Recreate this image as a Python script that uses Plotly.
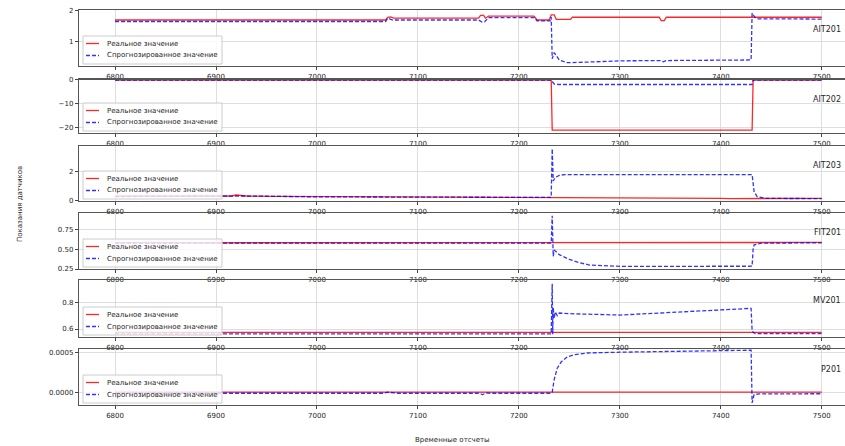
import plotly.graph_objects as go

# ---------------- data ----------------
sensor_names = ["AIT201", "AIT202", "AIT203", "FIT201", "MV201", "P201"]
real_label = "Реальное значение"
pred_label = "Спрогнозированное значение"
x_ticks = [6800, 6900, 7000, 7100, 7200, 7300, 7400, 7500]

# AIT201
ait201_real_t = [6800, 7068, 7070, 7073, 7076, 7160, 7162, 7165, 7167, 7170, 7215, 7218, 7230, 7232, 7235, 7237, 7251, 7253, 7339, 7341, 7344, 7346, 7500]
ait201_real_v = [1.70, 1.70, 1.79, 1.80, 1.76, 1.76, 1.85, 1.85, 1.76, 1.83, 1.83, 1.70, 1.70, 1.87, 1.87, 1.72, 1.72, 1.79, 1.79, 1.68, 1.68, 1.79, 1.79]
ait201_pred_t = [6800, 7068, 7070, 7075, 7160, 7163, 7166, 7170, 7215, 7218, 7231, 7232, 7233, 7235, 7240, 7248, 7260, 7300, 7340, 7343, 7346, 7430, 7431, 7434, 7437, 7500]
ait201_pred_v = [1.65, 1.65, 1.76, 1.70, 1.70, 1.64, 1.64, 1.78, 1.78, 1.67, 1.67, 1.80, 0.42, 0.62, 0.38, 0.29, 0.30, 0.35, 0.36, 0.32, 0.36, 0.38, 1.93, 1.78, 1.74, 1.73]

# AIT202
ait202_real_t = [6800, 7232, 7233, 7431, 7432, 7500]
ait202_real_v = [0.0, 0.0, -21.0, -21.0, 0.0, 0.0]
ait202_pred_t = [6800, 7232, 7233, 7235, 7240, 7431, 7432, 7500]
ait202_pred_v = [0.0, 0.0, -0.6, -1.7, -1.9, -1.9, 0.0, 0.0]

# AIT203
ait203_real_t = [6800, 6900, 6915, 6920, 6930, 6960, 7000, 7050, 7100, 7150, 7200, 7250, 7300, 7320, 7350, 7380, 7400, 7410, 7450, 7500]
ait203_real_v = [0.30, 0.30, 0.30, 0.37, 0.30, 0.28, 0.27, 0.26, 0.25, 0.23, 0.21, 0.19, 0.16, 0.18, 0.15, 0.16, 0.14, 0.12, 0.14, 0.13]
ait203_pred_t = [6800, 6920, 6930, 7000, 7100, 7200, 7232, 7233, 7234, 7236, 7240, 7245, 7300, 7431, 7433, 7436, 7445, 7500]
ait203_pred_v = [0.26, 0.26, 0.30, 0.24, 0.22, 0.20, 0.20, 3.60, 1.35, 1.60, 1.74, 1.80, 1.80, 1.80, 0.60, 0.25, 0.13, 0.12]

# FIT201
fit201_real_t = [6800, 6950, 7050, 7150, 7233, 7300, 7350, 7400, 7450, 7500]
fit201_real_v = [0.580, 0.582, 0.580, 0.583, 0.582, 0.585, 0.582, 0.583, 0.584, 0.584]
fit201_pred_t = [6800, 7232, 7233, 7234, 7235, 7240, 7250, 7260, 7270, 7285, 7300, 7431, 7432, 7433, 7440, 7500]
fit201_pred_v = [0.575, 0.575, 0.92, 0.41, 0.49, 0.43, 0.37, 0.33, 0.30, 0.29, 0.283, 0.285, 0.50, 0.555, 0.575, 0.58]

# MV201
mv201_real_t = [6800, 7500]
mv201_real_v = [0.575, 0.575]
mv201_pred_t = [6800, 7232, 7233, 7233.5, 7234, 7235, 7236, 7238, 7240, 7250, 7300, 7350, 7430, 7431, 7432, 7434, 7500]
mv201_pred_v = [0.563, 0.563, 0.94, 0.56, 0.76, 0.68, 0.73, 0.70, 0.72, 0.715, 0.705, 0.725, 0.755, 0.59, 0.575, 0.565, 0.566]

# P201
p201_real_t = [6800, 7500]
p201_real_v = [0.0, 0.0]
p201_pred_t = [6800, 7066, 7070, 7074, 7080, 7160, 7164, 7168, 7172, 7232, 7233, 7235, 7238, 7242, 7248, 7255, 7268, 7300, 7350, 7430, 7431, 7433, 7438, 7500]
p201_pred_v = [-0.000014, -0.000014, 0.0, -0.000005, -0.000014, -0.000014, -0.000030, -0.000010, -0.000014, -0.000014, 0.0, 0.00016, 0.00030, 0.00038, 0.00044, 0.00047, 0.00049, 0.00050, 0.00051, 0.000525, -0.000135, -0.00003, -0.000022, -0.00002]

real_t = [ait201_real_t, ait202_real_t, ait203_real_t, fit201_real_t, mv201_real_t, p201_real_t]
real_v = [ait201_real_v, ait202_real_v, ait203_real_v, fit201_real_v, mv201_real_v, p201_real_v]
pred_t = [ait201_pred_t, ait202_pred_t, ait203_pred_t, fit201_pred_t, mv201_pred_t, p201_pred_t]
pred_v = [ait201_pred_v, ait202_pred_v, ait203_pred_v, fit201_pred_v, mv201_pred_v, p201_pred_v]

y_ranges = [[0.18, 2.03], [-22.2, 0.2], [-0.05, 3.8], [0.25, 0.955], [0.54, 0.968], [-0.000161, 0.00054]]
y_tickvals = [[1, 2], [-20, -10, 0], [0, 2], [0.25, 0.5, 0.75], [0.6, 0.8], [0.0, 0.0005]]
y_formats = ["d", "d", "d", ".2f", ".1f", ".4f"]

# ---------------- layout geometry (pixels) ----------------
W, H = 845, 446
tops = [10, 79.5, 146, 213, 280, 349]
bottoms = [66, 133, 201, 269, 337, 405]
left_px = 79
x_range = [6764.3, 7523]

FONT = "DejaVu Sans"
TXT = "#262626"
RED = "rgba(255,0,0,0.85)"
BLUE = "rgba(0,0,255,0.8)"
DASH = "4px,2px"


def px(xp):
    return xp / W


def py(yp):
    return 1 - yp / H


fig = go.Figure()
layout = dict(
    width=W, height=H,
    margin=dict(l=0, r=0, t=0, b=0, autoexpand=False),
    paper_bgcolor="white", plot_bgcolor="white",
    font=dict(family=FONT, size=7, color=TXT),
    showlegend=False,
)
annotations = []
shapes = []

for i in range(6):
    n = "" if i == 0 else str(i + 1)
    xa = "x" + n
    ya = "y" + n
    fig.add_trace(go.Scatter(
        x=real_t[i], y=real_v[i], mode="lines", name=real_label,
        line=dict(color=RED, width=1.3), xaxis=xa, yaxis=ya))
    fig.add_trace(go.Scatter(
        x=pred_t[i], y=pred_v[i], mode="lines", name=pred_label,
        line=dict(color=BLUE, width=1.3, dash=DASH), xaxis=xa, yaxis=ya))
    common = dict(
        ticks="outside", ticklen=3, tickcolor="#444", automargin=False,
        showgrid=True, gridcolor="#d6d6d6", gridwidth=0.8,
        showline=True, linecolor="#555", linewidth=1.2, mirror=True,
        zeroline=False, tickfont=dict(size=7, color=TXT))
    layout["xaxis" + n] = dict(
        domain=[px(left_px), 1.0], anchor=ya, range=x_range,
        tickvals=x_ticks, **common)
    layout["yaxis" + n] = dict(
        domain=[py(bottoms[i]), py(tops[i])], anchor=xa, range=y_ranges[i],
        tickvals=y_tickvals[i], tickformat=y_formats[i], **common)

    # matplotlib-style legend box in the lower-left corner of each panel
    b = bottoms[i] - 2
    t = b - 28
    shapes.append(dict(type="rect", xref="paper", yref="paper", layer="above",
                       x0=px(83), x1=px(222), y0=py(b), y1=py(t),
                       fillcolor="rgba(255,255,255,0.8)",
                       line=dict(color="#cccccc", width=1)))
    r1 = t + 7.5
    r2 = t + 19.5
    shapes.append(dict(type="line", xref="paper", yref="paper", layer="above",
                       x0=px(86), x1=px(99), y0=py(r1), y1=py(r1),
                       line=dict(color=RED, width=1.3)))
    shapes.append(dict(type="line", xref="paper", yref="paper", layer="above",
                       x0=px(86), x1=px(99), y0=py(r2), y1=py(r2),
                       line=dict(color=BLUE, width=1.3, dash=DASH)))
    annotations.append(dict(text=real_label, x=px(105), y=py(r1), xref="paper", yref="paper",
                            xanchor="left", yanchor="middle", showarrow=False,
                            font=dict(size=7, color=TXT)))
    annotations.append(dict(text=pred_label, x=px(105), y=py(r2), xref="paper", yref="paper",
                            xanchor="left", yanchor="middle", showarrow=False,
                            font=dict(size=7, color=TXT)))

    annotations.append(dict(
        text=sensor_names[i], x=px(843), y=py(tops[i] + 20),
        xref="paper", yref="paper", xanchor="right", yanchor="middle",
        showarrow=False, font=dict(size=8, color=TXT)))

annotations.append(dict(
    text="Показания датчиков", x=px(14), y=py(204), xref="paper", yref="paper",
    textangle=-90, showarrow=False, font=dict(size=7, color=TXT)))
annotations.append(dict(
    text="Временные отсчеты", x=px(452), y=py(440), xref="paper", yref="paper",
    yanchor="middle", showarrow=False, font=dict(size=7, color=TXT)))

layout["annotations"] = annotations
layout["shapes"] = shapes
fig.update_layout(**layout)
fig.write_html("out.html", config={"displayModeBar": False, "staticPlot": True},
               post_script="document.body.style.margin='0';")
